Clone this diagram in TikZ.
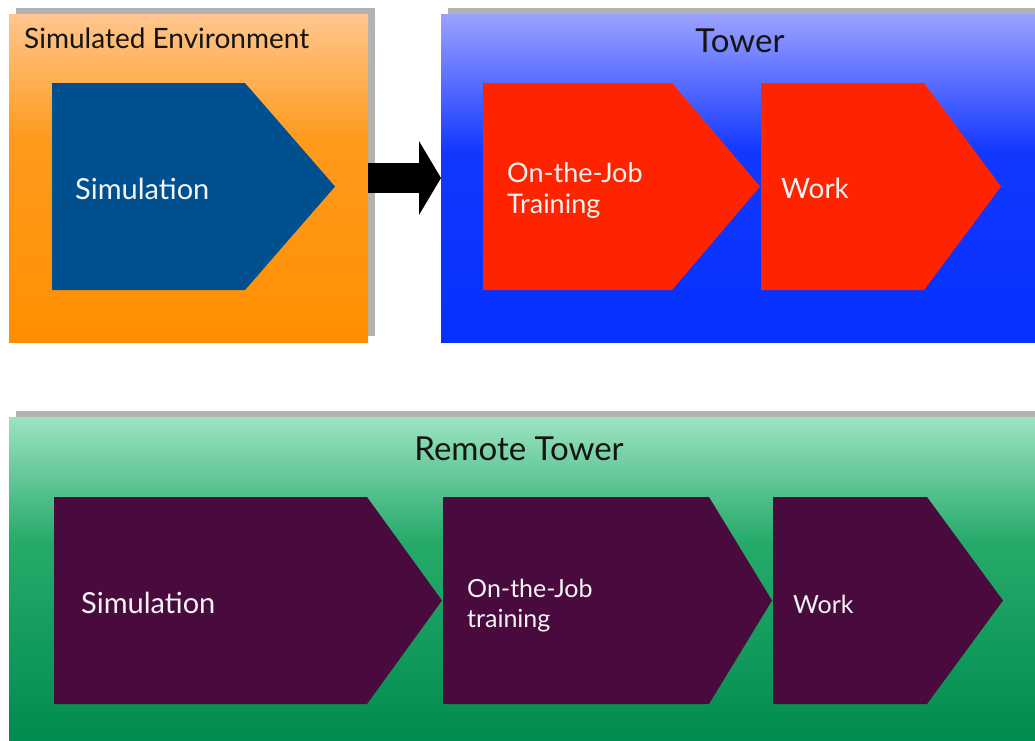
\documentclass[tikz,border=0pt]{standalone}
\usepackage{fontspec}
\setmainfont{Lato}
\usetikzlibrary{arrows.meta,shadows}

% panel gradients
\definecolor{envTop}{HTML}{FFC68E}
\definecolor{envMid}{HTML}{FF9A1E}
\definecolor{envBot}{HTML}{FF8F00}
\definecolor{towTop}{HTML}{9CA2FF}
\definecolor{towMid}{HTML}{1238FF}
\definecolor{towBot}{HTML}{0530FF}
\definecolor{remTop}{HTML}{9CE3C0}
\definecolor{remMid}{HTML}{27AB6B}
\definecolor{remBot}{HTML}{008C4E}
% step shapes
\definecolor{simBlue}{HTML}{00508F}
\definecolor{stepRed}{HTML}{FF2300}
\definecolor{stepPlum}{HTML}{490B3E}
\definecolor{panelShadow}{HTML}{B2B2B2}
\definecolor{titleInk}{HTML}{141414}
\definecolor{stepInk}{HTML}{F4F4F4}

\pgfdeclareverticalshading{envshade}{100bp}{color(0bp)=(envBot); color(25bp)=(envBot); color(56bp)=(envMid); color(75bp)=(envTop); color(100bp)=(envTop)}
\pgfdeclareverticalshading{towshade}{100bp}{color(0bp)=(towBot); color(25bp)=(towBot); color(54bp)=(towMid); color(75bp)=(towTop); color(100bp)=(towTop)}
\pgfdeclareverticalshading{remshade}{100bp}{color(0bp)=(remBot); color(25bp)=(remBot); color(56bp)=(remMid); color(75bp)=(remTop); color(100bp)=(remTop)}

\newcommand{\fsz}[1]{\fontsize{#1}{#1}\selectfont}

\begin{document}
\begin{tikzpicture}[x=1pt, y=-1pt,
  panel/.style={rectangle, inner sep=0pt, outer sep=0pt, anchor=north west,
    general shadow={shadow xshift=7pt, shadow yshift=6pt, fill=panelShadow}},
  paneltitle/.style={inner sep=0pt, text=titleInk, font=\fsz{33}},
  steplabel/.style={inner sep=0pt, anchor=base west, text=stepInk, font=\fsz{28}},
  bigarrow/.style={line width=30pt, -{Triangle[length=22pt, width=73pt]}}
]
\useasboundingbox (0,0) rectangle (1035,740);
\fill[white] (0,0) rectangle (1035,740);

% panels
\node[panel, shading=envshade, minimum width=359pt, minimum height=328pt] (env) at (9,14) {};
\node[panel, shading=towshade, minimum width=594pt, minimum height=328pt] (tower) at (441,14) {};
\node[panel, shading=remshade, minimum width=1026pt, minimum height=323pt] (remote) at (9,417) {};

% panel titles
\node[paneltitle, anchor=base west, font=\fsz{28}] (envtitle) at (24,48) {Simulated Environment};
\node[paneltitle, anchor=base] (towertitle) at (740,52) {Tower};
\node[paneltitle, anchor=base] (remotetitle) at (519,460) {Remote Tower};

% upper steps
\fill[simBlue]  (52,83)  -- (245,83)  -- (335,186.5) -- (245,290)  -- (52,290)  -- cycle;
\fill[stepRed]  (483,83) -- (672,83)  -- (760,186.5) -- (672,290)  -- (483,290) -- cycle;
\fill[stepRed]  (761,83) -- (924,83)  -- (1001,186.5) -- (924,290) -- (761,290) -- cycle;

% lower steps
\fill[stepPlum] (54,497)  -- (367,497) -- (442,600.5) -- (367,704) -- (54,704)  -- cycle;
\fill[stepPlum] (443,497) -- (709,497) -- (772,600.5) -- (709,704) -- (443,704) -- cycle;
\fill[stepPlum] (773,497) -- (927,497) -- (1003,600.5) -- (927,704) -- (773,704) -- cycle;

% step labels
\node[steplabel, font=\fsz{29}] (simA) at (75,199) {Simulation};
\node[steplabel, font=\fontsize{27}{31}\selectfont] (ojtA) at (507,182) {\begin{tabular}[t]{@{}l@{}}On-the-Job\\Training\end{tabular}};
\node[steplabel] (workA) at (781,198) {Work};
\node[steplabel, font=\fsz{29}] (simB) at (81,613) {Simulation};
\node[steplabel, font=\fontsize{25}{30}\selectfont] (ojtB) at (467,597) {\begin{tabular}[t]{@{}l@{}}On-the-Job\\training\end{tabular}};
\node[steplabel, font=\fsz{25}] (workB) at (793,613) {Work};

% transfer from the simulated environment to the tower
\draw[bigarrow] (env.east) -- (tower.west);
\end{tikzpicture}
\end{document}
